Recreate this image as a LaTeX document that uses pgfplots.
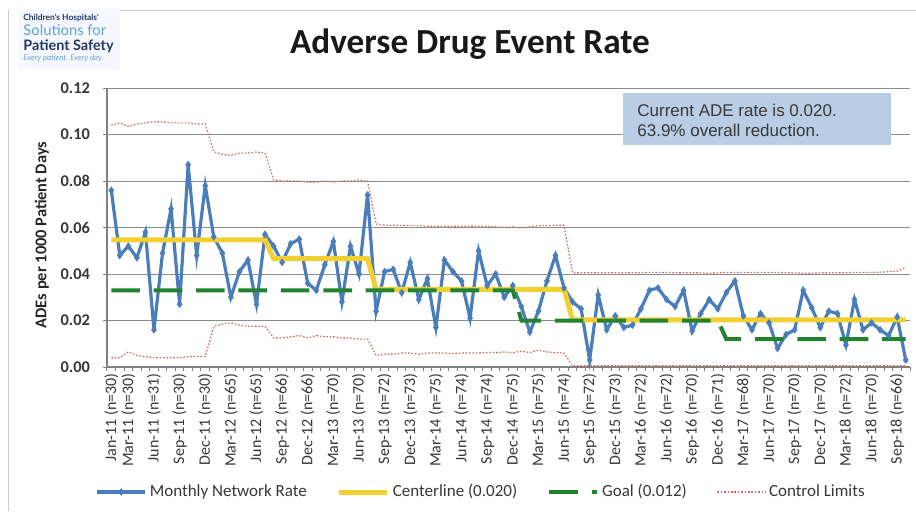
\documentclass[border=0pt]{standalone}
\usepackage{pgfplots}
\usepackage{pgfplotstable}
\pgfplotsset{compat=1.18}
\usepackage{fontspec}
\setmainfont{Carlito}
\newfontfamily\boxfont{Liberation Sans}
\newfontfamily\logofont{Lato}

\definecolor{rateblue}{RGB}{74,126,187}
\definecolor{centeryellow}{RGB}{242,208,50}
\definecolor{goalgreen}{RGB}{34,130,48}
\definecolor{limitred}{RGB}{205,105,105}
\definecolor{boxblue}{RGB}{185,205,229}
\definecolor{logonavy}{RGB}{31,56,100}
\definecolor{logoblue}{RGB}{95,165,210}
\definecolor{textgray}{RGB}{55,55,55}

% idx: month index from Jan-11; rate: monthly ADE rate per 1000 patient days
% center: centerline, goal: network goal, ucl/lcl: control limits
\pgfplotstableread{
idx rate  center goal  ucl    lcl
0   0.076 0.0547 0.033 0.1040 0.0040
1   0.048 0.0547 0.033 0.1050 0.0040
2   0.052 0.0547 0.033 0.1035 0.0065
3   0.047 0.0547 0.033 0.1045 0.0050
4   0.058 0.0547 0.033 0.1050 0.0045
5   0.016 0.0547 0.033 0.1055 0.0040
6   0.049 0.0547 0.033 0.1055 0.0040
7   0.068 0.0547 0.033 0.1050 0.0040
8   0.027 0.0547 0.033 0.1050 0.0040
9   0.087 0.0547 0.033 0.1050 0.0045
10  0.048 0.0547 0.033 0.1045 0.0045
11  0.078 0.0547 0.033 0.1045 0.0045
12  0.056 0.0547 0.033 0.0925 0.0175
13  0.049 0.0547 0.033 0.0915 0.0185
14  0.030 0.0547 0.033 0.0910 0.0190
15  0.041 0.0547 0.033 0.0920 0.0180
16  0.046 0.0547 0.033 0.0920 0.0175
17  0.027 0.0547 0.033 0.0925 0.0175
18  0.057 0.0547 0.033 0.0920 0.0175
19  0.052 0.0466 0.033 0.0805 0.0125
20  0.045 0.0466 0.033 0.0800 0.0125
21  0.053 0.0466 0.033 0.0800 0.0130
22  0.055 0.0466 0.033 0.0800 0.0135
23  0.036 0.0466 0.033 0.0795 0.0125
24  0.033 0.0466 0.033 0.0795 0.0135
25  0.044 0.0466 0.033 0.0800 0.0130
26  0.054 0.0466 0.033 0.0795 0.0130
27  0.028 0.0466 0.033 0.0800 0.0125
28  0.052 0.0466 0.033 0.0800 0.0125
29  0.040 0.0466 0.033 0.0805 0.0120
30  0.074 0.0466 0.033 0.0800 0.0120
31  0.024 0.0334 0.033 0.0615 0.0050
32  0.041 0.0334 0.033 0.0610 0.0055
33  0.042 0.0334 0.033 0.0610 0.0055
34  0.032 0.0334 0.033 0.0610 0.0060
35  0.045 0.0334 0.033 0.0608 0.0060
36  0.029 0.0334 0.033 0.0608 0.0055
37  0.038 0.0334 0.033 0.0605 0.0060
38  0.017 0.0334 0.033 0.0605 0.0060
39  0.046 0.0334 0.033 0.0605 0.0060
40  0.041 0.0334 0.033 0.0605 0.0058
41  0.037 0.0334 0.033 0.0605 0.0060
42  0.021 0.0334 0.033 0.0605 0.0060
43  0.050 0.0334 0.033 0.0605 0.0060
44  0.035 0.0334 0.033 0.0605 0.0062
45  0.040 0.0334 0.033 0.0603 0.0062
46  0.030 0.0334 0.033 0.0600 0.0065
47  0.035 0.0334 0.033 0.0603 0.0062
48  0.026 0.0334 0.020 0.0598 0.0068
49  0.015 0.0334 0.020 0.0603 0.0062
50  0.024 0.0334 0.020 0.0608 0.0072
51  0.037 0.0334 0.020 0.0608 0.0065
52  0.048 0.0334 0.020 0.0610 0.0062
53  0.034 0.0334 0.020 0.0610 0.0060
54  0.028 0.0203 0.020 0.0405 0.0005
55  0.025 0.0203 0.020 0.0405 0.0005
56  0.003 0.0203 0.020 0.0405 0.0005
57  0.031 0.0203 0.020 0.0405 0.0005
58  0.016 0.0203 0.020 0.0405 0.0005
59  0.022 0.0203 0.020 0.0405 0.0005
60  0.017 0.0203 0.020 0.0405 0.0005
61  0.018 0.0203 0.020 0.0405 0.0005
62  0.025 0.0203 0.020 0.0405 0.0005
63  0.033 0.0203 0.020 0.0407 0.0005
64  0.034 0.0203 0.020 0.0407 0.0005
65  0.029 0.0203 0.020 0.0407 0.0005
66  0.026 0.0203 0.020 0.0405 0.0005
67  0.033 0.0203 0.020 0.0405 0.0005
68  0.0155 0.0203 0.020 0.0405 0.0005
69  0.023 0.0203 0.020 0.0405 0.0005
70  0.029 0.0203 0.020 0.0403 0.0005
71  0.025 0.0203 0.020 0.0405 0.0005
72  0.032 0.0203 0.012 0.0407 0.0005
73  0.037 0.0203 0.012 0.0407 0.0005
74  0.022 0.0203 0.012 0.0407 0.0005
75  0.016 0.0203 0.012 0.0407 0.0005
76  0.023 0.0203 0.012 0.0407 0.0005
77  0.019 0.0203 0.012 0.0407 0.0005
78  0.008 0.0203 0.012 0.0407 0.0005
79  0.014 0.0203 0.012 0.0405 0.0005
80  0.016 0.0203 0.012 0.0405 0.0005
81  0.033 0.0203 0.012 0.0403 0.0005
82  0.0255 0.0203 0.012 0.0403 0.0005
83  0.017 0.0203 0.012 0.0405 0.0005
84  0.024 0.0203 0.012 0.0405 0.0005
85  0.023 0.0203 0.012 0.0405 0.0005
86  0.0095 0.0203 0.012 0.0405 0.0005
87  0.029 0.0203 0.012 0.0407 0.0005
88  0.016 0.0203 0.012 0.0407 0.0005
89  0.019 0.0203 0.012 0.0407 0.0005
90  0.016 0.0203 0.012 0.0408 0.0005
91  0.0135 0.0203 0.012 0.0410 0.0005
92  0.0215 0.0203 0.012 0.0412 0.0005
93  0.003 0.0203 0.012 0.0428 0.0005
}\adetable

\begin{document}
\begin{tikzpicture}
\useasboundingbox (0,0) rectangle (458pt,255.5pt);

% chart area frame
\draw[black!20, line width=0.5pt] (4pt,0) -- (4pt,250.5pt);
\draw[black!20, line width=0.5pt] (60pt,250.5pt) -- (458pt,250.5pt);

\begin{axis}[
  at={(53.5pt,72pt)}, anchor=south west,
  scale only axis, width=401.5pt, height=139.5pt,
  xmin=-0.5, xmax=93.5, ymin=0, ymax=0.12,
  clip=false,
  axis x line*=bottom, axis y line*=left,
  axis line style={black!50, line width=0.6pt},
  tick align=outside, major tick length=2pt,
  tick style={black!50, line width=0.5pt},
  xtick={-0.5,0.5,...,93.5}, xticklabels={},
  extra x ticks={0,2,5,8,11,14,17,20,23,26,29,32,35,38,41,44,47,50,53,56,59,62,65,68,71,74,77,80,83,86,89,92},
  extra x tick labels={Jan-11 (n=30),Mar-11 (n=30),Jun-11 (n=31),Sep-11 (n=30),Dec-11 (n=30),Mar-12 (n=65),Jun-12 (n=65),Sep-12 (n=66),Dec-12 (n=66),Mar-13 (n=70),Jun-13 (n=70),Sep-13 (n=72),Dec-13 (n=73),Mar-14 (n=75),Jun-14 (n=74),Sep-14 (n=74),Dec-14 (n=75),Mar-15 (n=75),Jun-15 (n=74),Sep-15 (n=72),Dec-15 (n=73),Mar-16 (n=72),Jun-16 (n=72),Sep-16 (n=70),Dec-16 (n=71),Mar-17 (n=68),Jun-17 (n=70),Sep-17 (n=70),Dec-17 (n=70),Mar-18 (n=72),Jun-18 (n=70),Sep-18 (n=66)},
  extra x tick style={tick style={draw=none},
    xticklabel style={rotate=90, anchor=east, inner sep=1pt,
      font=\fontsize{8}{9}\selectfont, text=textgray}},
  ytick={0,0.02,0.04,0.06,0.08},
  extra y ticks={0.10,0.12},
  extra y tick style={grid style={black!18, line width=1.3pt}},
  scaled y ticks=false,
  /pgf/number format/fixed, /pgf/number format/fixed zerofill,
  /pgf/number format/precision=2,
  /pgf/number format/assume math mode=true,
  yticklabel style={font=\bfseries\fontsize{8.2}{9}\selectfont, text=textgray, xshift=-3pt},
  ymajorgrids, major grid style={black!45, line width=0.5pt},
  ylabel={ADEs per 1000 Patient Days},
  ylabel style={at={(axis description cs:-0.081,0.473)}, anchor=center,
    font=\bfseries\fontsize{8.2}{9}\selectfont, text=black!85},
  legend columns=4,
  legend style={at={(axis description cs:0.466,-0.448)}, anchor=center,
    draw=none, fill=none, font=\fontsize{8.5}{10}\selectfont, text=textgray,
    /tikz/every odd column/.append style={column sep=0.5pt},
    /tikz/every even column/.append style={column sep=14pt},
    nodes={inner xsep=1pt}},
  legend cell align=left,
  legend image code/.code={\draw[mark repeat=2,mark phase=2,#1] plot coordinates {(0pt,0pt) (12pt,0pt) (24pt,0pt)};},
]
\addplot[rateblue, line width=1.6pt, mark=diamond*, mark size=1.6pt,
  mark options={solid, fill=rateblue, draw=rateblue, line width=0.4pt}]
  table[x=idx, y=rate] {\adetable};
\addlegendentry{Monthly Network Rate}
\addplot[centeryellow, line width=2.5pt] table[x=idx, y=center] {\adetable};
\addlegendentry{Centerline (0.020)}
\addplot[goalgreen, line width=2pt, dash pattern=on 14.3pt off 6.9pt] table[x=idx, y=goal] {\adetable};
\addlegendentry{Goal (0.012)}
\addplot[limitred, line width=0.6pt, dash pattern=on 0.8pt off 0.9pt] table[x=idx, y=ucl] {\adetable};
\addlegendentry{Control Limits}
\addplot[limitred, line width=0.6pt, dash pattern=on 0.8pt off 0.9pt, forget plot] table[x=idx, y=lcl] {\adetable};
\end{axis}

% title
\node[anchor=base, font=\bfseries\fontsize{17.6}{20}\selectfont, text=black!90] at (235pt,229pt) {Adverse Drug Event Rate};

% summary box
\fill[boxblue] (311.5pt,183pt) rectangle (445.5pt,209.2pt);
\node[anchor=base west, inner sep=0pt, font=\boxfont\fontsize{8.5}{10}\selectfont, text=black!78] at (318.5pt,197.5pt) {Current ADE rate is 0.020.};
\node[anchor=base west, inner sep=0pt, font=\boxfont\fontsize{8.5}{10}\selectfont, text=black!78] at (318.5pt,187.5pt) {63.9\% overall reduction.};

% logo
\fill[blue!3] (9pt,221pt) rectangle (60pt,251pt);
\node[anchor=base west, inner sep=0pt, font=\logofont\bfseries\fontsize{4.2}{5}\selectfont, text=logonavy] at (11.5pt,245.5pt) {Children's Hospitals'};
\node[anchor=base west, inner sep=0pt, font=\logofont\fontsize{7.4}{8}\selectfont, text=logoblue] at (11.5pt,238pt) {Solutions for};
\node[anchor=base west, inner sep=0pt, font=\logofont\bfseries\fontsize{7.2}{8}\selectfont, text=logonavy] at (11.5pt,230.5pt) {Patient Safety};
\node[anchor=base west, inner sep=0pt, font=\logofont\itshape\fontsize{3.9}{5}\selectfont, text=logoblue] at (11.5pt,225.5pt) {Every patient. Every day.};
\end{tikzpicture}
\end{document}
